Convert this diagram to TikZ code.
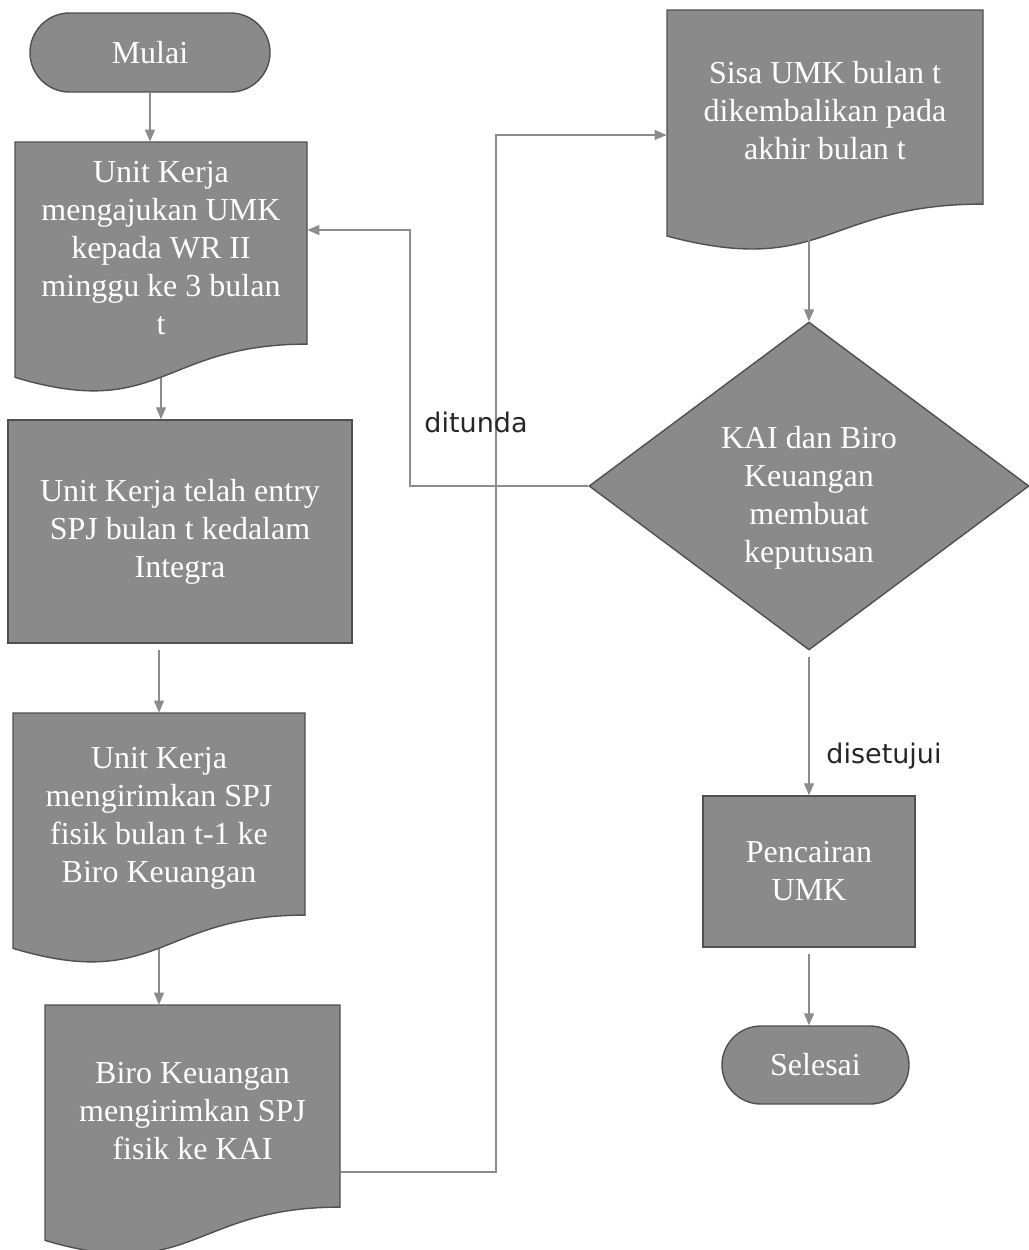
\documentclass[tikz,border=0pt]{standalone}
\usepackage{fontspec}
\setmainfont{Liberation Serif}
\newfontfamily\lblfont{DejaVu Sans}
\usetikzlibrary{shapes.geometric,shapes.misc,arrows.meta}
\definecolor{boxgray}{RGB}{138,138,138}
\definecolor{edgegray}{RGB}{80,80,80}
\definecolor{linegray}{RGB}{140,140,140}

% document symbol: name, left, top, right, height, text
\newcommand\docshape[6]{%
  \path[shapefill] (#2,#3) -- (#4,#3) -- (#4,{#3+0.802*#5})
    .. controls ({(#2+#4)/2},{#3+0.802*#5}) and ({(#2+#4)/2},{#3+1.108*#5}) .. (#2,{#3+0.934*#5}) -- cycle;
  \node[ghost,minimum width={(#4-#2)*0.5pt},minimum height={0.933*#5*0.5pt}] (#1) at ({(#2+#4)/2},{#3+0.4665*#5}) {};
  \node[boxtext] (#1t) at ([yshift=6pt]#1.center) {#6};
}

\begin{document}
\begin{tikzpicture}[x=0.5pt,y=-0.5pt,
  shapefill/.style={fill=boxgray,draw=edgegray,line width=0.7pt},
  boxtext/.style={text=white,font=\fontsize{16}{19}\selectfont,align=center,inner sep=0pt},
  terminal/.style={rounded rectangle,shapefill,boxtext},
  procbox/.style={rectangle,shapefill,boxtext},
  decision/.style={diamond,shapefill,inner sep=0pt},
  ghost/.style={rectangle,inner sep=0pt},
  flow/.style={draw=linegray,line width=0.6pt,-{Triangle[length=6pt,width=5pt]}},
  edgelabel/.style={font=\lblfont\fontsize{13.5}{16}\selectfont,text=black!85,inner sep=0pt}
]
\useasboundingbox (0,0) rectangle (1029,1250);

% left column
\node[terminal,minimum width=120pt,minimum height=39.5pt] (start) at (150,52.5) {Mulai};
\docshape{b1}{15}{142}{307}{252}{Unit Kerja\\mengajukan UMK\\kepada WR II\\minggu ke 3 bulan\\t}
\node[procbox,minimum width=172pt,minimum height=111.5pt] (b2) at (180,531.5)
  {Unit Kerja telah entry\\SPJ bulan t kedalam\\Integra};
\docshape{b3}{13}{713}{305}{252}{Unit Kerja\\mengirimkan SPJ\\fisik bulan t-1 ke\\Biro Keuangan}
\docshape{b4}{45}{1005}{340}{252}{Biro Keuangan\\mengirimkan SPJ\\fisik ke KAI}

% right column
\docshape{b5}{667}{10}{983}{242}{Sisa UMK bulan t\\dikembalikan pada\\akhir bulan t}
\node[decision,minimum width=220pt,minimum height=164pt,aspect=1.35] (dec) at (809,486) {};
\node[boxtext] (dect) at ([yshift=-6pt]dec.center) {KAI dan Biro\\Keuangan\\membuat\\keputusan};
\node[procbox,minimum width=106pt,minimum height=75.5pt] (b6) at (809,871.5) {Pencairan\\UMK};
\node[terminal,minimum width=93.5pt,minimum height=39pt] (stop) at (815.5,1065) {Selesai};

% connectors
\draw[flow] (start.south) -- (start.south |- b1.north);
\draw[flow] (b1.south) -- (b1.south |- b2.north);
\draw[flow,shorten <=3pt] (b3.north |- b2.south) -- (b3.north);
\draw[flow] (b3.south) -- (b3.south |- b4.north);

\coordinate (j1) at (496,1172);
\coordinate (j2) at (496,135);
\draw[flow] (b4.east |- j1) -- (j1) -- (j2) -- (j2 -| b5.west);

\draw[flow] (dec.north |- b5.south) -- (dec.north);

\coordinate (j3) at (410,486);
\coordinate (j4) at (410,230);
\draw[flow] (dec.west) -- (j3) -- (j4) -- (j4 -| b1.east);
\node[edgelabel] (lblno) at (476,422) {ditunda};

\draw[flow,shorten <=3pt] (dec.south) -- (b6.north);
\node[edgelabel] (lblyes) at (884,756) {disetujui};

\draw[flow,shorten <=3pt] (b6.south) -- (b6.south |- stop.north);
\end{tikzpicture}
\end{document}
